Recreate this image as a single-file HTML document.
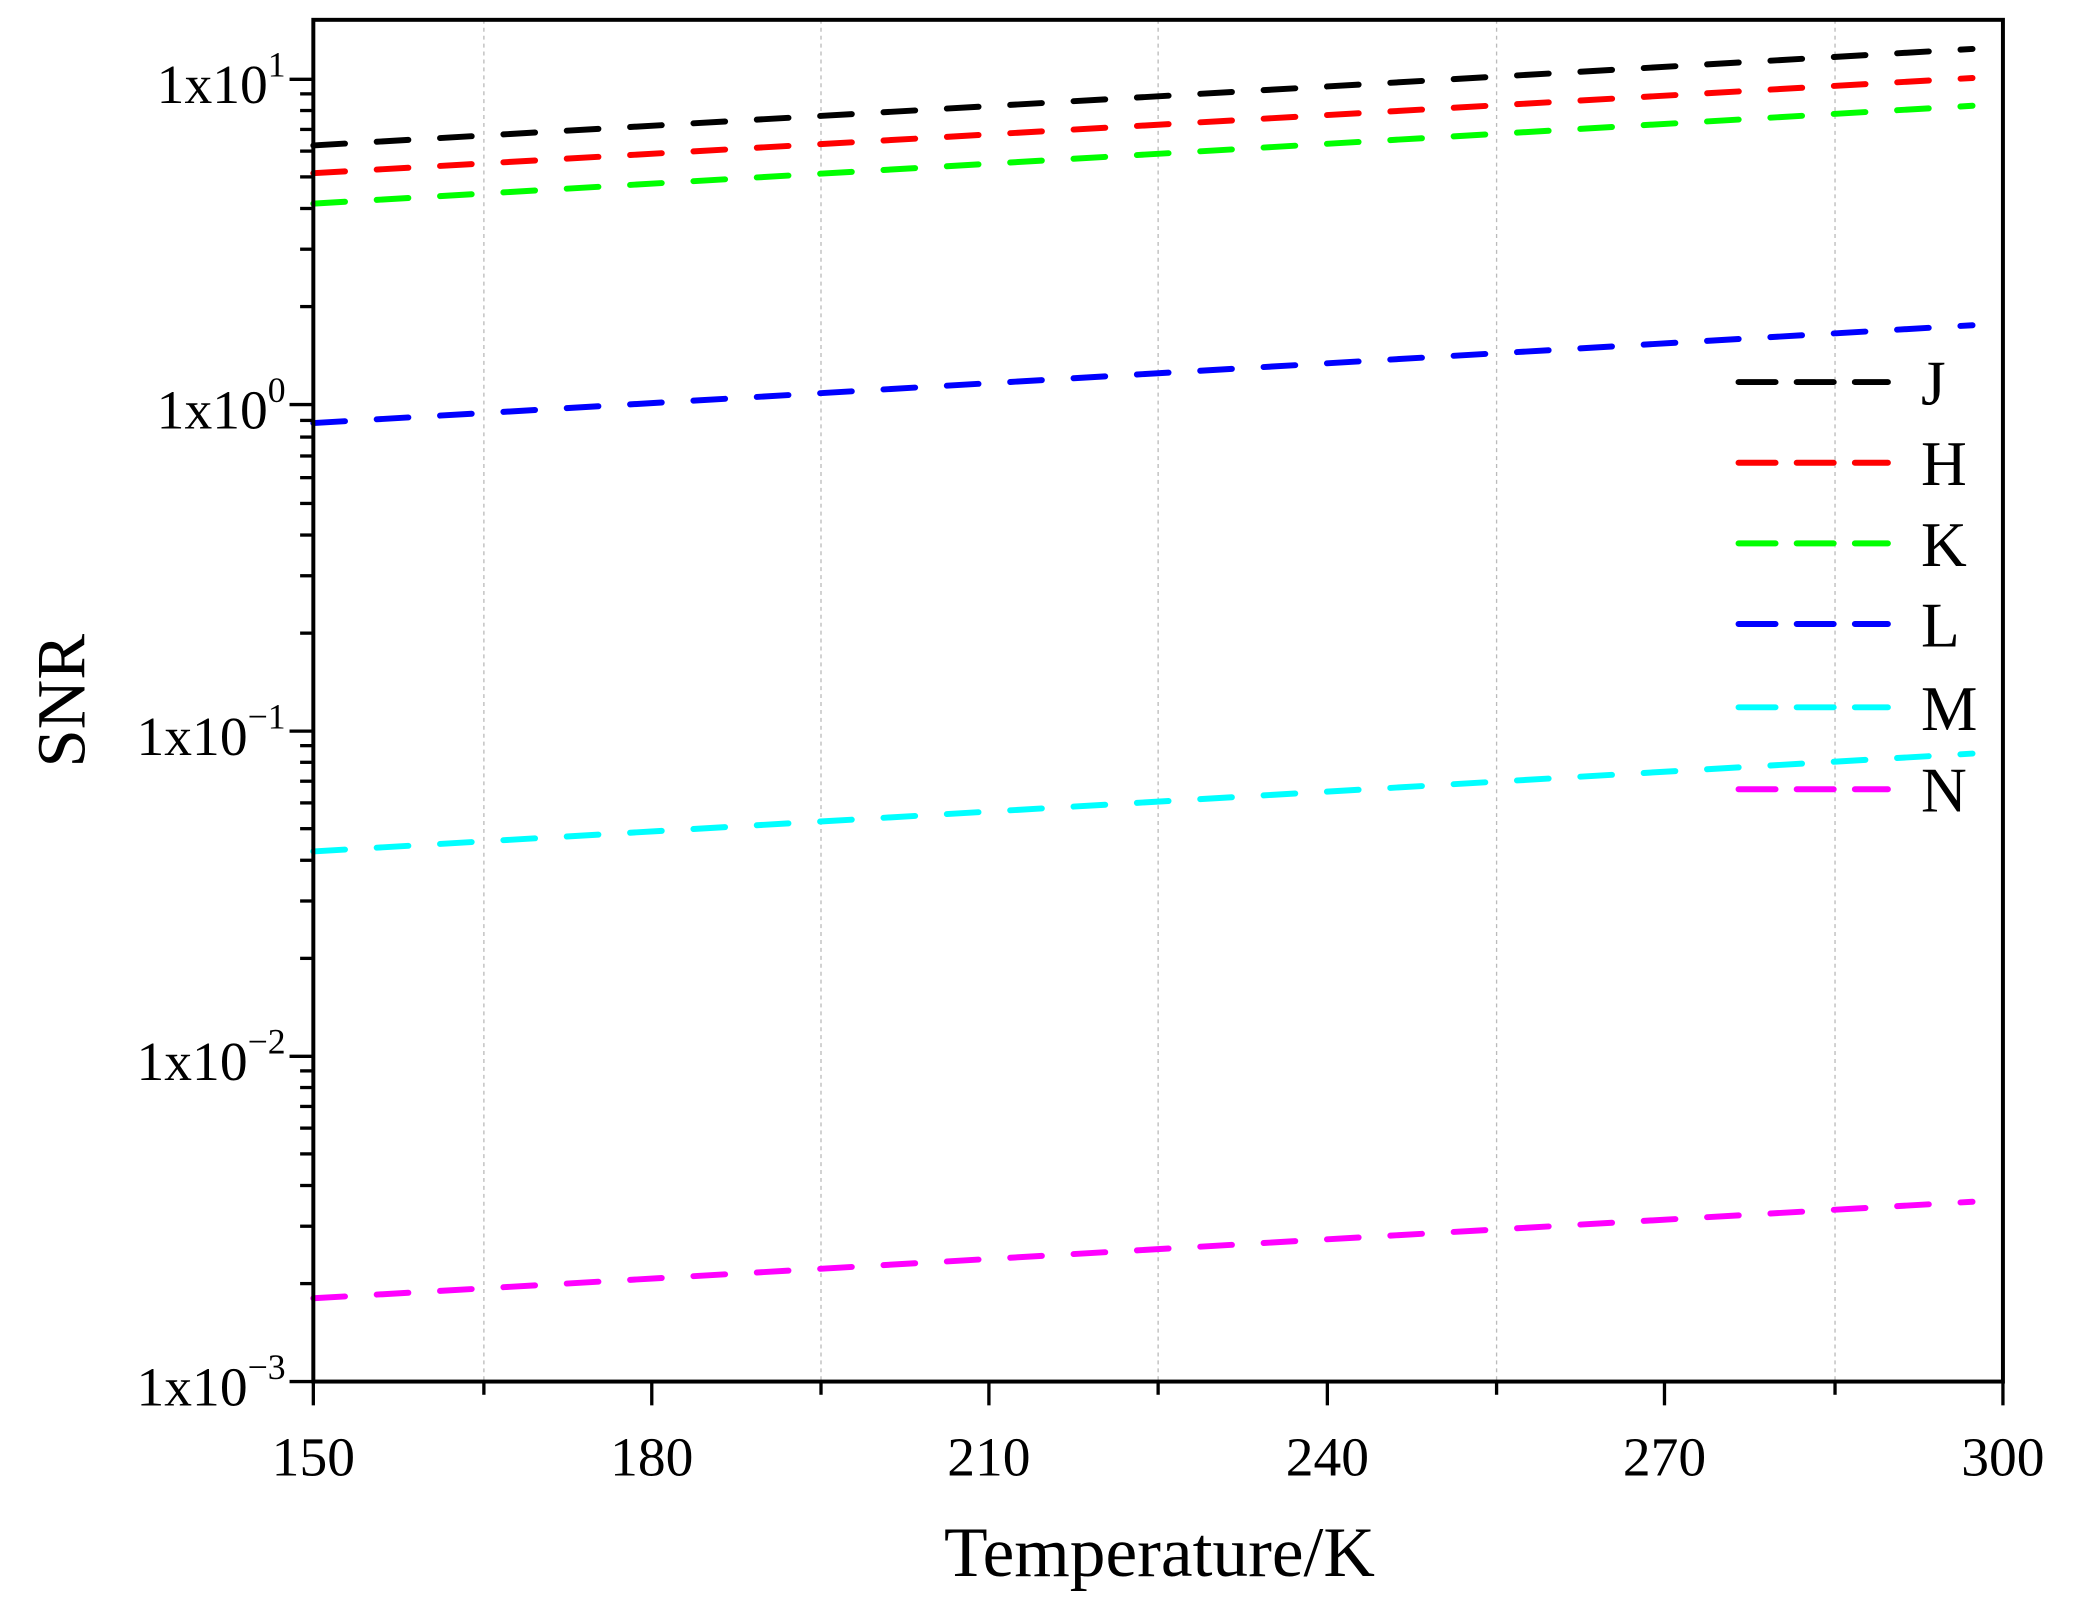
<!DOCTYPE html>
<html><head><meta charset="utf-8"><style>html,body{margin:0;padding:0;background:#fff}svg{display:block}</style></head>
<body>
<svg width="2073" height="1612" viewBox="0 0 1568 1219.3" preserveAspectRatio="none" xmlns="http://www.w3.org/2000/svg" font-family="Liberation Serif, serif">
<g stroke="#bbb" stroke-width="1" stroke-dasharray="3,3">
<line x1="366" y1="15" x2="366" y2="1045"/><line x1="621" y1="15" x2="621" y2="1045"/><line x1="876" y1="15" x2="876" y2="1045"/><line x1="1132" y1="15" x2="1132" y2="1045"/><line x1="1388" y1="15" x2="1388" y2="1045"/>
</g>
<g stroke-width="4.5" stroke-linecap="round" stroke-dasharray="24,24" fill="none">
<line x1="237" y1="110" x2="1492" y2="37" stroke="#000"/>
<line x1="237" y1="131" x2="1492" y2="59" stroke="#f00"/>
<line x1="237" y1="154" x2="1492" y2="80" stroke="#0f0"/>
<line x1="237" y1="320" x2="1492" y2="246" stroke="#00f"/>
<line x1="237" y1="644" x2="1492" y2="570" stroke="#0ff"/>
<line x1="237" y1="982" x2="1492" y2="909" stroke="#f0f"/>
</g>
<rect x="237" y="15" width="1278" height="1030" stroke="#000" stroke-width="3" fill="none"/>
<g stroke="#000" stroke-width="2.5">
<line x1="219" y1="60" x2="237" y2="60"/><line x1="219" y1="306" x2="237" y2="306"/><line x1="219" y1="553" x2="237" y2="553"/><line x1="219" y1="799" x2="237" y2="799"/><line x1="219" y1="1045" x2="237" y2="1045"/>
<line x1="237" y1="1045" x2="237" y2="1063"/><line x1="493" y1="1045" x2="493" y2="1063"/><line x1="748" y1="1045" x2="748" y2="1063"/><line x1="1004" y1="1045" x2="1004" y2="1063"/><line x1="1259" y1="1045" x2="1259" y2="1063"/><line x1="1515" y1="1045" x2="1515" y2="1063"/>
<line x1="366" y1="1045" x2="366" y2="1055"/><line x1="621" y1="1045" x2="621" y2="1055"/><line x1="876" y1="1045" x2="876" y2="1055"/><line x1="1132" y1="1045" x2="1132" y2="1055"/><line x1="1388" y1="1045" x2="1388" y2="1055"/>
<line x1="227" y1="231.9" x2="237" y2="231.9"/><line x1="227" y1="188.5" x2="237" y2="188.5"/><line x1="227" y1="157.7" x2="237" y2="157.7"/><line x1="227" y1="133.8" x2="237" y2="133.8"/><line x1="227" y1="114.3" x2="237" y2="114.3"/><line x1="227" y1="97.9" x2="237" y2="97.9"/><line x1="227" y1="83.6" x2="237" y2="83.6"/><line x1="227" y1="71" x2="237" y2="71"/>
<line x1="227" y1="478.9" x2="237" y2="478.9"/><line x1="227" y1="435.5" x2="237" y2="435.5"/><line x1="227" y1="404.7" x2="237" y2="404.7"/><line x1="227" y1="380.8" x2="237" y2="380.8"/><line x1="227" y1="361.3" x2="237" y2="361.3"/><line x1="227" y1="344.9" x2="237" y2="344.9"/><line x1="227" y1="330.6" x2="237" y2="330.6"/><line x1="227" y1="318" x2="237" y2="318"/>
<line x1="227" y1="724.9" x2="237" y2="724.9"/><line x1="227" y1="681.5" x2="237" y2="681.5"/><line x1="227" y1="650.7" x2="237" y2="650.7"/><line x1="227" y1="626.8" x2="237" y2="626.8"/><line x1="227" y1="607.3" x2="237" y2="607.3"/><line x1="227" y1="590.9" x2="237" y2="590.9"/><line x1="227" y1="576.6" x2="237" y2="576.6"/><line x1="227" y1="564" x2="237" y2="564"/>
<line x1="227" y1="970.9" x2="237" y2="970.9"/><line x1="227" y1="927.5" x2="237" y2="927.5"/><line x1="227" y1="896.7" x2="237" y2="896.7"/><line x1="227" y1="872.8" x2="237" y2="872.8"/><line x1="227" y1="853.3" x2="237" y2="853.3"/><line x1="227" y1="836.9" x2="237" y2="836.9"/><line x1="227" y1="822.6" x2="237" y2="822.6"/><line x1="227" y1="810" x2="237" y2="810"/>
</g>
<g font-size="42" fill="#000" text-anchor="end">
<text x="216" y="78">1x10<tspan font-size="27" dy="-20">1</tspan></text>
<text x="216" y="324">1x10<tspan font-size="27" dy="-20">0</tspan></text>
<text x="216" y="571">1x10<tspan font-size="27" dy="-20">−1</tspan></text>
<text x="216" y="817">1x10<tspan font-size="27" dy="-20">−2</tspan></text>
<text x="216" y="1063">1x10<tspan font-size="27" dy="-20">−3</tspan></text>
</g>
<g font-size="42" fill="#000" text-anchor="middle">
<text x="237" y="1116">150</text><text x="493" y="1116">180</text><text x="748" y="1116">210</text><text x="1004" y="1116">240</text><text x="1259" y="1116">270</text><text x="1515" y="1116">300</text>
</g>
<text x="877" y="1192" font-size="54" text-anchor="middle">Temperature/K</text>
<text transform="translate(64,530) rotate(-90)" font-size="52" text-anchor="middle">SNR</text>
<g stroke-width="4.5" stroke-linecap="round" stroke-dasharray="28,16">
<line x1="1315" y1="289" x2="1428" y2="289" stroke="#000"/>
<line x1="1315" y1="350" x2="1428" y2="350" stroke="#f00"/>
<line x1="1315" y1="411" x2="1428" y2="411" stroke="#0f0"/>
<line x1="1315" y1="472" x2="1428" y2="472" stroke="#00f"/>
<line x1="1315" y1="535" x2="1428" y2="535" stroke="#0ff"/>
<line x1="1315" y1="597" x2="1428" y2="597" stroke="#f0f"/>
</g>
<g font-size="48" fill="#000">
<text x="1453" y="306">J</text><text x="1453" y="367">H</text><text x="1453" y="428">K</text><text x="1453" y="489">L</text><text x="1453" y="552">M</text><text x="1453" y="614">N</text>
</g>
</svg>
</body></html>
